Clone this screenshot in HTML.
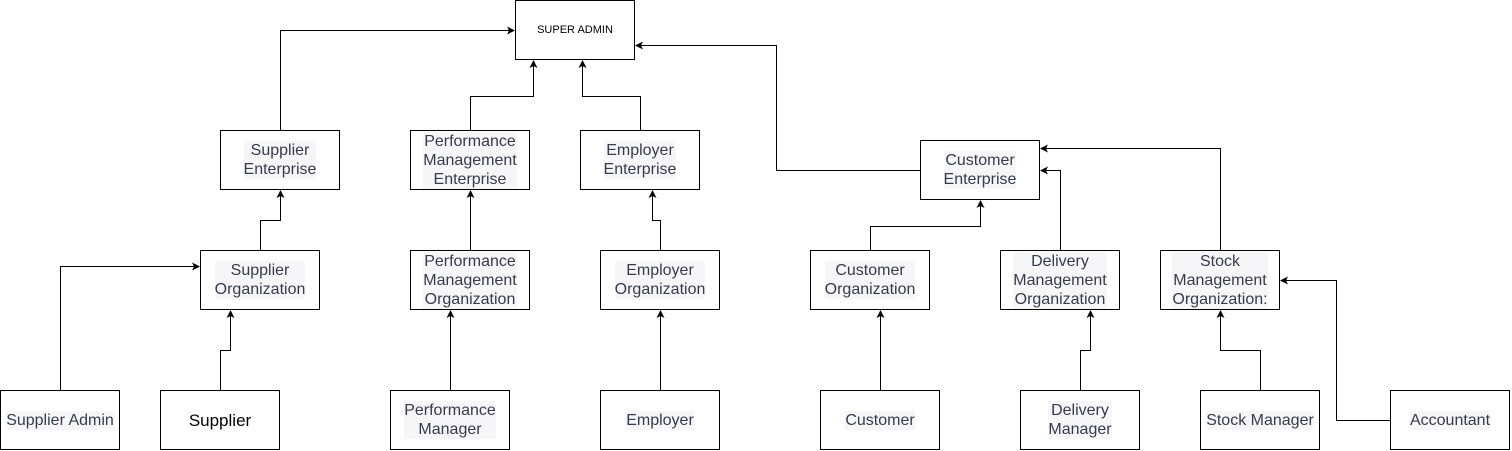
<!DOCTYPE html>
<html><head><meta charset="utf-8"><style>
body{margin:0;background:#fff;width:1512px;height:451px;overflow:hidden;position:relative;font-family:"Liberation Sans",sans-serif}
.b{position:absolute;box-sizing:border-box;border:1px solid #000;background:#fff;display:flex;align-items:center;justify-content:center;text-align:center;font-size:16px;line-height:19px;color:#353c4d;height:60px;width:120px;white-space:nowrap}
.b span{background:#f6f6f8}
svg{position:absolute;left:0;top:0}
</style></head><body>
<svg width="1512" height="451">
<defs><marker id="a" markerWidth="8" markerHeight="8" refX="7" refY="4" orient="auto" markerUnits="userSpaceOnUse"><path d="M0,0 L8,4 L0,8 L2,4 z" fill="#000"/></marker></defs>
<g fill="none" stroke="#000" stroke-width="1" marker-end="url(#a)">
<path d="M280.5 130 V30.5 H514"/>
<path d="M470.5 130 V96.5 H533.5 V61"/>
<path d="M640.5 130 V96.5 H582.5 V61"/>
<path d="M920 170.5 H776.5 V45.5 H636"/>
<path d="M260.5 250 V220.5 H280.5 V191"/>
<path d="M60.5 390 V266.5 H199"/>
<path d="M220.5 390 V350.5 H230.5 V311"/>
<path d="M470.5 250 V191"/>
<path d="M450.5 390 V311"/>
<path d="M660.5 250 V220.5 H652.5 V191"/>
<path d="M660.5 390 V311"/>
<path d="M870.5 250 V226.5 H980.5 V201"/>
<path d="M1060.5 250 V170.5 H1041"/>
<path d="M1220.5 250 V148.5 H1041"/>
<path d="M880.5 390 V311"/>
<path d="M1080.5 390 V350.5 H1090.5 V311"/>
<path d="M1260.5 390 V350.5 H1220.5 V311"/>
<path d="M1390 420.5 H1336.5 V280.5 H1281"/>
</g></svg>
<div class="b" style="left:515px;top:0;font-size:11px;color:#000">SUPER ADMIN</div>
<div class="b" style="left:220px;top:130px"><span>Supplier<br>Enterprise</span></div>
<div class="b" style="left:410px;top:130px"><span>Performance<br>Management<br>Enterprise</span></div>
<div class="b" style="left:580px;top:130px"><span>Employer<br>Enterprise</span></div>
<div class="b" style="left:920px;top:140px"><span>Customer<br>Enterprise</span></div>
<div class="b" style="left:200px;top:250px"><span>Supplier<br>Organization</span></div>
<div class="b" style="left:410px;top:250px"><span>Performance<br>Management<br>Organization</span></div>
<div class="b" style="left:600px;top:250px"><span>Employer<br>Organization</span></div>
<div class="b" style="left:810px;top:250px"><span>Customer<br>Organization</span></div>
<div class="b" style="left:1000px;top:250px"><span>Delivery<br>Management<br>Organization</span></div>
<div class="b" style="left:1160px;top:250px"><span>Stock<br>Management<br>Organization:</span></div>
<div class="b" style="left:0;top:390px"><span>Supplier Admin</span></div>
<div class="b" style="left:160px;top:390px;font-size:17px;color:#000">Supplier</div>
<div class="b" style="left:390px;top:390px"><span>Performance<br>Manager</span></div>
<div class="b" style="left:600px;top:390px"><span>Employer</span></div>
<div class="b" style="left:820px;top:390px"><span>Customer</span></div>
<div class="b" style="left:1020px;top:390px"><span>Delivery<br>Manager</span></div>
<div class="b" style="left:1200px;top:390px"><span>Stock Manager</span></div>
<div class="b" style="left:1390px;top:390px"><span>Accountant</span></div>
</body></html>
